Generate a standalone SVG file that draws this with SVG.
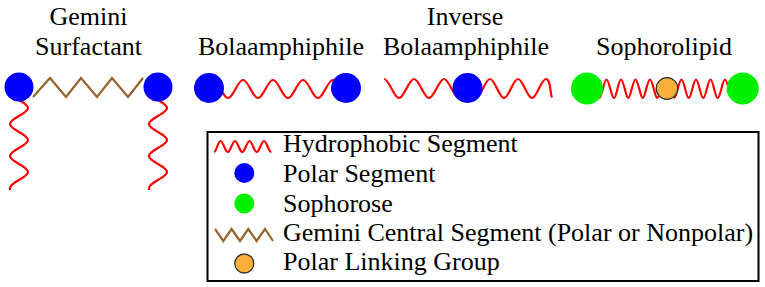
<svg xmlns="http://www.w3.org/2000/svg" width="765" height="287" viewBox="0 0 765 287">
<style>
.lbl{font-family:"Liberation Serif",serif;font-size:26px;fill:#000}
.t{text-anchor:middle}
.wave{fill:none;stroke:#ff0000;stroke-width:2.2}
.zig{fill:none;stroke:#96642d;stroke-width:2.2;stroke-linejoin:miter}
.polar{fill:#0000ff}
.soph{fill:#00f000}
.link{fill:#fbb03b;stroke:#333;stroke-width:1.3}
</style>
<rect width="765" height="287" fill="#fff"/>

<g id="gemini">
<text class="lbl t" x="88.5" y="24.5">Gemini</text>
<text class="lbl t" x="88.5" y="55">Surfactant</text>
<polyline class="zig" points="33,97 50,78 66,97 81,78 97,97 112,78 128,97 143,78"/>
<path class="wave" d="M10,92 C10,97.8 28,102.2 28,108 S10,118.2 10,124 S28,134.2 28,140 S10,150.2 10,156 S28,166.2 28,172 S10,182.2 10,188 L10,190"/>
<path class="wave" d="M149,92 C149,97.8 167,102.2 167,108 S149,118.2 149,124 S167,134.2 167,140 S149,150.2 149,156 S167,166.2 167,172 S149,182.2 149,188 L149,190"/>
<circle class="polar" cx="19" cy="87" r="14.5"/>
<circle class="polar" cx="158" cy="87" r="14.5"/>
</g>

<g id="bola">
<text class="lbl t" x="281" y="55">Bolaamphiphile</text>
<path class="wave" d="M213,80 C218.5,80 222.5,98 228,98 S237.5,80 243,80 S252.5,98 258,98 S267.5,80 273,80 S282.5,98 288,98 S297.5,80 303,80 S312.5,98 318,98 S327.5,80 333,80 S342.5,98 348,98"/>
<circle class="polar" cx="209" cy="88" r="15"/>
<circle class="polar" cx="346" cy="88" r="15"/>
</g>

<g id="inverse-bola">
<text class="lbl t" x="465" y="24.5">Inverse</text>
<text class="lbl t" x="466" y="55">Bolaamphiphile</text>
<path class="wave" d="M384,79 C389.1,79 393.9,98 399,98 S408.9,79 414,79 S423.9,98 429,98 S438.9,79 444,79 S453.9,98 459,98 S468.9,79 474,79"/>
<path class="wave" d="M476,98 C480.9,98 485.1,79 490,79 S499.1,98 504,98 S513.1,79 518,79 S527.1,98 532,98 S541.1,79 546,79 S550,94 552,97.5"/>
<circle class="polar" cx="467.5" cy="88" r="15"/>
</g>

<g id="sophorolipid">
<text class="lbl t" x="664" y="55">Sophorolipid</text>
<path class="wave" d="M599.25,98 C601.9,98 603.85,79.5 606.5,79.5 S611.35,98 614,98 S618.35,79.5 621,79.5 S625.85,98 628.25,98 S632.85,79.5 635.5,79.5 S640.35,98 642.75,98 S647.35,79.5 650,79.5 S654.85,98 657.25,98 S661.85,79.5 664.5,79.5"/>
<path class="wave" d="M674,98 C676.65,98 678.85,79.5 681.5,79.5 S686.1,98 688.75,98 S693.35,79.5 696,79.5 S700.6,98 703.25,98 S707.85,79.5 710.5,79.5 S715.1,98 717.75,98 S722.35,79.5 725,79.5 S729.6,98 732.25,98"/>
<circle class="soph" cx="587" cy="88.5" r="16"/>
<circle class="soph" cx="742.7" cy="88.5" r="16"/>
<circle class="link" cx="667" cy="88.5" r="10.8"/>
</g>

<g id="legend">
<rect x="207.5" y="132" width="551" height="149" fill="none" stroke="#000" stroke-width="2"/>
<path class="wave" d="M214,152 C216.6,152 217.9,141 220.5,141 S225.1,152 227.75,152 S232.4,141 235,141 S239.6,152 242.25,152 S246.9,141 249.5,141 S254.1,152 256.75,152 S261.4,141 264,141 S268.6,152 271.25,152"/>
<circle class="polar" cx="244.3" cy="173" r="10"/>
<circle class="soph" cx="244.3" cy="203.5" r="10"/>
<polyline class="zig" points="215,229 223.3,241 231.6,229 240,241 248.3,229 256.6,241 265,229 273,241"/>
<circle class="link" cx="244.3" cy="263.5" r="9.5"/>
<text class="lbl" x="283" y="152">Hydrophobic Segment</text>
<text class="lbl" x="283" y="182">Polar Segment</text>
<text class="lbl" x="283" y="211.5">Sophorose</text>
<text class="lbl" x="283" y="241">Gemini Central Segment (Polar or Nonpolar)</text>
<text class="lbl" x="283" y="270">Polar Linking Group</text>
</g>
</svg>
